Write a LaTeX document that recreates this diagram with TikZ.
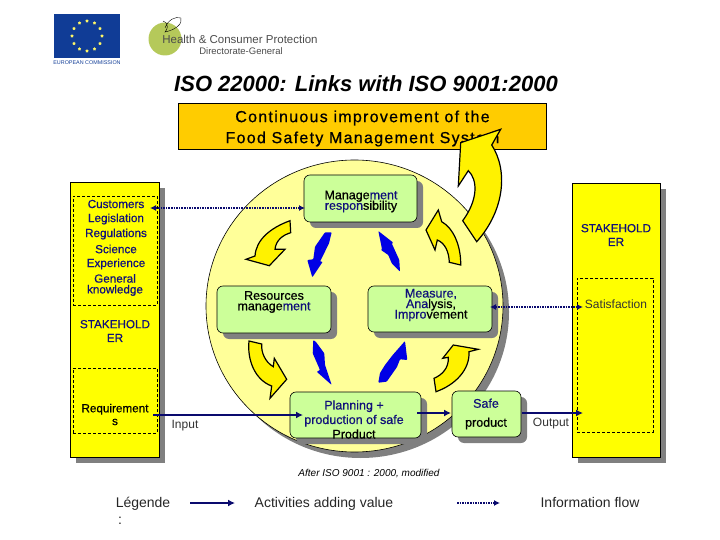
\documentclass[tikz,border=0pt]{standalone}
\usepackage{fontspec}
\setmainfont{Liberation Sans}
\newfontfamily\boldish[FakeBold=0.6]{Liberation Sans}
\newfontfamily\boldspaced[FakeBold=0.6,LetterSpace=8]{Liberation Sans}
\usetikzlibrary{arrows.meta,calc,shadows,shapes.geometric}
\definecolor{navyLine}{HTML}{0A0A6E}
\definecolor{navyText}{HTML}{10107A}
\definecolor{boxYellow}{HTML}{FFFF00}
\definecolor{titleOrange}{HTML}{FFCC00}
\definecolor{discYellow}{HTML}{FFFF99}
\definecolor{stepGreen}{HTML}{CCFF99}
\definecolor{euBlue}{HTML}{103C96}
\definecolor{leafGreen}{HTML}{B5C95A}
\newcommand{\nv}[1]{\textcolor{navyText}{#1}}
\normallineskiplimit=-20pt
\lineskiplimit=-20pt
\begin{document}
\begin{tikzpicture}
[x=1pt,y=-1pt,
  greyShadow/.style={drop shadow={shadow xshift=6pt,shadow yshift=-6pt,opacity=1,fill=black!50}},
  sideDecorate/.style={draw=black,fill=boxYellow,line width=0.7pt,greyShadow},
  dashDecorate/.style={draw=black,densely dashed,line width=0.5pt},
  stepDecorate/.style={draw=black,fill=stepGreen,rounded corners=6pt,line width=0.6pt,greyShadow},
  labelDecorate/.style={font=\boldish\fontsize{11.7}{10.8}\selectfont,inner sep=0pt,align=center,text=black},
  stepLabel/.style={font=\boldish\fontsize{12.5}{10.5}\selectfont,inner sep=0pt,align=center,text=black},
  plainDecorate/.style={font=\fontsize{12}{12}\selectfont,inner sep=0pt,align=center,text=black!80},
  legendLabel/.style={font=\fontsize{14}{14}\selectfont,inner sep=0pt,text=black!85},
  turnDecorate/.style={draw=black,fill=yellow,line width=1.2pt,line join=miter},
  flowDecorate/.style={fill=blue!90!black,draw=none,rounded corners=0.8pt},
  valueLine/.style={-{Latex[length=7pt,width=7pt]},draw=navyLine,line width=1.6pt},
  infoLine/.style={draw=navyLine,line width=1.8pt,dash pattern=on 1.6pt off 1pt},
  infoTip/.style={{Latex[length=6pt,width=6pt]}-{Latex[length=6pt,width=6pt]}}]
\useasboundingbox (0,0) rectangle (720,540);
%% logos
\node (euFlag) at (87,36) [fill=euBlue,minimum width=66pt,minimum height=44pt,inner sep=0pt] {};
\foreach \a in {0,30,...,330}
{
  \node at ($(87,36)+(\a:15pt)$) [star,star points=5,fill=yellow!60!white,minimum size=3.5pt,inner sep=0pt] {};
}
\node (euText) at (87,63) [font=\fontsize{5.4}{6}\selectfont,text=euBlue,inner sep=0pt] {EUROPEAN COMMISSION};
\node (healthDisc) at (165,39) [circle,fill=leafGreen,minimum size=33pt,inner sep=0pt] {};
\draw[line width=0.4pt] (163,21) .. controls (170,24) and (167,30) .. (165,32) .. controls (175,30) and (183,24) .. (181,18) .. controls (175,16) and (168,20) .. (165,28);
\node (healthText) at (240,39.5) [font=\fontsize{11.5}{11.5}\selectfont,text=black!70,inner sep=0pt] {Health \& Consumer Protection};
\node (dgText) at (241,51) [font=\fontsize{9.5}{9.5}\selectfont,text=black!70,inner sep=0pt] {Directorate-General};
%% title
\node (title) at (366,84) [font=\bfseries\itshape\fontsize{22}{22}\selectfont,inner sep=0pt] {ISO 22000: Links with ISO 9001:2000};
\node (goal) at (362.5,126) [draw=black,fill=titleOrange,minimum width=368pt,minimum height=46pt,line width=0.6pt,inner sep=0pt] {};
\node (goalText) at (362.5,128.5) [font=\boldspaced\fontsize{16}{21}\selectfont,align=center,inner sep=0pt] {Continuous improvement of the\\Food Safety Management System};
%% side boxes
\node (leftBox) at (114.5,319.5) [sideDecorate,minimum width=89pt,minimum height=275pt,inner sep=0pt] {};
\node (rightBox) at (616,320) [sideDecorate,minimum width=88pt,minimum height=274pt,inner sep=0pt] {};
\node (inputsBox) at (115,250.5) [dashDecorate,minimum width=84pt,minimum height=109pt,inner sep=0pt] {};
\node (needsBox) at (115,400.5) [dashDecorate,minimum width=84pt,minimum height=65pt,inner sep=0pt] {};
\node (satisBox) at (615,355) [dashDecorate,minimum width=76pt,minimum height=154pt,inner sep=0pt] {};
\foreach \nodename/\x/\y/\txt in {
  customers/116/204/\nv{Customers}, legislation/116/219/\nv{Legislation},
  regulations/116/234/\nv{Regulations}, science/116/249/\nv{Science},
  experience/116/264/\nv{Experience}, knowledge/115/285/{\nv{General}\\\nv{knowledge}},
  stakeLeft/115/331/{\nv{STAKEHOLD}\\[3pt]\nv{ER}}, requirements/115/414.5/{Requirement\\[2pt]s},
  stakeRight/616/235/{\nv{STAKEHOLD}\\[3pt]\nv{ER}}}
{
  \node (\nodename) at (\x,\y) [labelDecorate] {\txt};
}
%% disc and steps
\node (disc) at (354.5,306) [ellipse,draw=black,fill=discYellow,minimum width=297pt,minimum height=292pt,inner sep=0pt,line width=0.6pt,greyShadow] {};
\foreach \nodename/\x/\y/\w/\h in {
  mgmtBox/360.5/198.5/113/47, resBox/274/309.5/114/47, measBox/430/309/124/46,
  planBox/355.5/415/131/46, safeBox/486.5/414/69/46}
{
  \node (\nodename) at (\x,\y) [stepDecorate,minimum width=\w pt,minimum height=\h pt,inner sep=0pt] {};
}
\foreach \nodename/\x/\y/\txt in {
  mgmtText/361/201.5/{Manage\nv{ment}\\\nv{respon}sibility},
  resText/274/302/{Resources\\manage\nv{ment}},
  measText/431/305/{\nv{Measure,}\\\nv{Ana}lysis,\\\nv{Impro}vement},
  planText/354/419.5/{\nv{Planning +}\\[4pt]\nv{production of safe}\\[4pt]Product},
  safeText/486/414/{\nv{Safe}\\[8.5pt]product}}
{
  \node (\nodename) at (\x,\y) [stepLabel] {\txt};
}
%% curved arrows
\path[turnDecorate] (290,220.7) .. controls (270,228) and (256,240) .. (255,256) -- (246,259.3) -- (269.3,265.7) -- (285,249.3) -- (275,249.3) .. controls (276,240) and (283,235) .. (290.7,232.7) -- cycle;
\path[turnDecorate] (249,341) .. controls (247,360) and (255,380) .. (271.7,386) -- (270,398.3) -- (286.7,379.3) -- (274.3,358.3) -- (273.3,366.7) .. controls (265,362) and (261,352) .. (261.7,344) -- cycle;
\path[turnDecorate] (434,378.3) .. controls (442,375) and (449,368) .. (448.3,357.3) -- (442.7,358.3) -- (453.3,345) -- (478.3,349.3) -- (469,351.7) .. controls (470,370) and (455,385) .. (436,391.7) -- cycle;
\path[turnDecorate] (438.3,210) -- (426,230) -- (435,250) -- (437.3,240) .. controls (445,243) and (449,252) .. (449.3,262.3) -- (460.7,265) .. controls (461,245) and (453,228) .. (441.7,221.7) -- cycle;
\path[turnDecorate] (500.7,129.3) -- (460.7,142.7) -- (458.3,186) -- (468.3,170.7) .. controls (478,180) and (478,200) .. (462.7,220.7) -- (476.7,241.7) .. controls (505,210) and (508,170) .. (491.7,145) -- cycle;
\path[flowDecorate] (325,232.3) -- (331.7,232.3) -- (329,243.3) -- (323.3,255) -- (320,261.7) -- (322.7,261.7) -- (312.3,277.3) -- (307.3,260) -- (313.3,259.3) -- (315,246.7) -- cycle;
\path[flowDecorate] (313.3,340) -- (316,342) -- (324.3,353.3) -- (325,365) -- (331.7,385) -- (316.7,371.7) -- (320,370) -- (312.7,353.3) -- cycle;
\path[flowDecorate] (378.3,231) -- (393.3,242.7) -- (391.7,243.3) -- (399.3,260) -- (400,271.7) -- (391.7,263.3) -- (388.3,255) -- (381,250) -- (382,249) -- cycle;
\path[flowDecorate] (405,341) -- (407.3,360) -- (400,359.3) -- (397,367) -- (386.7,381.7) -- (378.3,382.7) -- (380,373) -- (385,365) -- (392.7,355) -- cycle;
%% connectors
\coordinate (customersPort) at (150,208);
\coordinate (mgmtPort) at (305,208);
\coordinate (requirementsPort) at (153,415);
\coordinate (planIn) at (303,415);
\coordinate (planOut) at (417,413);
\coordinate (safeIn) at (451,413);
\coordinate (safeOut) at (522,413);
\coordinate (satisIn) at (583,413);
\coordinate (measPort) at (490,307);
\coordinate (satisPort) at (583,307);
\draw[infoLine,infoTip] (customersPort) -- (mgmtPort);
\draw[infoLine,infoTip] (measPort) -- (satisPort);
\draw[valueLine] (requirementsPort) -- (planIn);
\draw[valueLine] (planOut) -- (safeIn);
\draw[valueLine] (safeOut) -- (satisIn);
%% free labels
\foreach \nodename/\x/\y/\txt in {
  inputLabel/185/426/Input, outputLabel/551/424/Output, satisLabel/616/304/Satisfaction}
{
  \node (\nodename) at (\x,\y) [plainDecorate] {\txt};
}
\node (source) at (369,474) [font=\itshape\fontsize{10}{10}\selectfont,inner sep=0pt] {After ISO 9001 : 2000, modified};
%% legend
\foreach \nodename/\x/\y/\txt in {
  legendText/143/504/Légende, legendColon/120/521/:, valueLabel/324/504/Activities adding value,
  flowLabel/590/502.5/Information flow}
{
  \node (\nodename) at (\x,\y) [legendLabel] {\txt};
}
\coordinate (legendA) at (190,503);
\coordinate (legendB) at (235,503);
\coordinate (legendC) at (457,503);
\coordinate (legendD) at (500,503);
\draw[valueLine] (legendA) -- (legendB);
\draw[infoLine,-{Latex[length=6pt,width=6pt]}] (legendC) -- (legendD);
\end{tikzpicture}
\end{document}
